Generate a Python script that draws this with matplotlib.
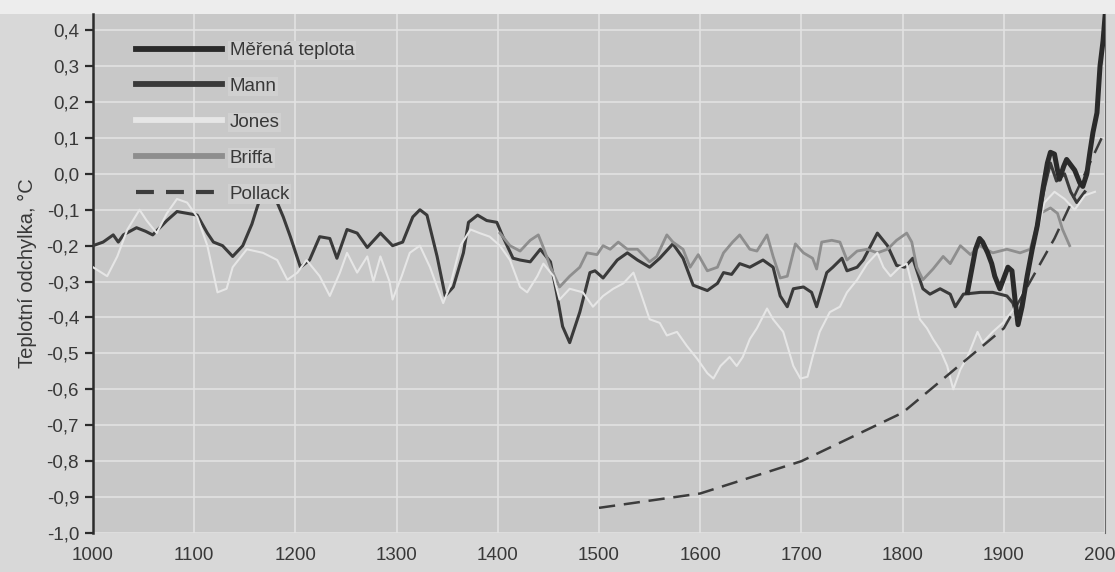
import matplotlib
matplotlib.use("Agg")
import matplotlib.pyplot as plt
from matplotlib.patches import Rectangle

plt.rcParams['font.family'] = ['Liberation Sans', 'DejaVu Sans']

# --- data (year, anomaly in degC) ---
mann_years = [1000, 1010, 1020, 1025, 1030, 1043, 1052, 1059, 1066, 1073, 1083, 1093, 1103,
              1113, 1119, 1128, 1138, 1148, 1157, 1162, 1165, 1170, 1175, 1182, 1188, 1195,
              1205, 1214, 1224, 1234, 1241, 1251, 1261, 1271, 1284, 1296, 1306, 1316, 1323,
              1330, 1340, 1348, 1356, 1366, 1371, 1380, 1389, 1399, 1405, 1415, 1422, 1432,
              1442, 1452, 1458, 1464, 1471, 1481, 1491, 1496, 1504, 1511, 1518, 1528, 1538,
              1550, 1560, 1573, 1583, 1593, 1607, 1617, 1623, 1631, 1639, 1649, 1662, 1672,
              1679, 1686, 1692, 1702, 1710, 1715, 1725, 1731, 1740, 1745, 1755, 1761, 1775,
              1785, 1794, 1802, 1810, 1820, 1827, 1837, 1847, 1852, 1860, 1877, 1889, 1903,
              1909, 1914, 1920, 1930, 1940, 1946, 1952, 1960, 1966, 1972, 1980]
mann_vals = [-0.20, -0.19, -0.17, -0.19, -0.17, -0.15, -0.16, -0.17, -0.15, -0.13, -0.105, -0.11, -0.115,
             -0.165, -0.19, -0.20, -0.23, -0.20, -0.14, -0.095, -0.07, -0.06, -0.065, -0.08, -0.12, -0.175,
             -0.26, -0.24, -0.175, -0.18, -0.235, -0.155, -0.165, -0.205, -0.165, -0.20, -0.19, -0.12, -0.10,
             -0.115, -0.23, -0.34, -0.315, -0.22, -0.135, -0.115, -0.13, -0.135, -0.175, -0.235, -0.24, -0.245,
             -0.21, -0.245, -0.33, -0.425, -0.47, -0.385, -0.275, -0.27, -0.29, -0.265, -0.24, -0.22, -0.24,
             -0.26, -0.235, -0.195, -0.235, -0.31, -0.325, -0.305, -0.275, -0.28, -0.25, -0.26, -0.24, -0.26,
             -0.34, -0.37, -0.32, -0.315, -0.33, -0.37, -0.275, -0.26, -0.235, -0.27, -0.26, -0.24, -0.165,
             -0.20, -0.255, -0.26, -0.235, -0.32, -0.335, -0.32, -0.335, -0.37, -0.335, -0.33, -0.33, -0.34,
             -0.36, -0.41, -0.33, -0.18, -0.04, 0.03, -0.02, 0.0, -0.05, -0.08, -0.05]

measured_years = [1864, 1868, 1872, 1876, 1879, 1884, 1888, 1891, 1896, 1900, 1904, 1908, 1911,
                  1914, 1918, 1923, 1928, 1933, 1939, 1943, 1946, 1950, 1953, 1955, 1959, 1962,
                  1966, 1970, 1975, 1978, 1982, 1985, 1988, 1992, 1995, 1998, 2000]
measured_vals = [-0.33, -0.27, -0.21, -0.18, -0.19, -0.22, -0.25, -0.285, -0.32, -0.29, -0.26, -0.27, -0.35,
                 -0.42, -0.37, -0.285, -0.21, -0.145, -0.035, 0.03, 0.06, 0.055, 0.01, -0.015, 0.02, 0.04,
                 0.025, 0.01, -0.025, -0.035, 0.0, 0.06, 0.115, 0.17, 0.30, 0.37, 0.44]

jones_years = [1000, 1014, 1024, 1034, 1046, 1053, 1063, 1073, 1083, 1093, 1103, 1113, 1123,
               1132, 1138, 1152, 1168, 1182, 1192, 1202, 1211, 1224, 1234, 1244, 1251, 1261,
               1271, 1277, 1284, 1293, 1296, 1305, 1313, 1323, 1333, 1340, 1346, 1353, 1363,
               1373, 1382, 1392, 1402, 1412, 1422, 1429, 1439, 1445, 1455, 1461, 1471, 1484,
               1494, 1504, 1514, 1524, 1534, 1541, 1550, 1560, 1567, 1577, 1587, 1597, 1607,
               1613, 1620, 1629, 1636, 1642, 1649, 1656, 1666, 1672, 1682, 1692, 1699, 1706,
               1711, 1718, 1728, 1738, 1745, 1755, 1765, 1775, 1781, 1788, 1797, 1804, 1810,
               1817, 1824, 1830, 1837, 1844, 1850, 1857, 1864, 1874, 1879, 1889, 1899, 1909,
               1920, 1930, 1940, 1950, 1960, 1970, 1980, 1990]
jones_vals = [-0.26, -0.285, -0.23, -0.155, -0.10, -0.13, -0.165, -0.11, -0.07, -0.08, -0.12, -0.20, -0.33,
              -0.32, -0.26, -0.21, -0.22, -0.24, -0.295, -0.275, -0.24, -0.285, -0.34, -0.275, -0.22, -0.275,
              -0.23, -0.30, -0.23, -0.30, -0.35, -0.285, -0.22, -0.20, -0.26, -0.315, -0.36, -0.31, -0.20,
              -0.155, -0.165, -0.175, -0.20, -0.24, -0.315, -0.33, -0.285, -0.25, -0.285, -0.35, -0.32, -0.33,
              -0.37, -0.34, -0.32, -0.305, -0.275, -0.33, -0.405, -0.415, -0.45, -0.44, -0.48, -0.515, -0.555,
              -0.57, -0.535, -0.51, -0.535, -0.51, -0.46, -0.43, -0.375, -0.405, -0.44, -0.535, -0.57, -0.565,
              -0.51, -0.44, -0.385, -0.37, -0.33, -0.295, -0.25, -0.22, -0.26, -0.285, -0.26, -0.25, -0.32,
              -0.405, -0.43, -0.46, -0.49, -0.535, -0.60, -0.545, -0.51, -0.44, -0.47, -0.44, -0.415, -0.38,
              -0.32, -0.20, -0.08, -0.05, -0.07, -0.10, -0.06, -0.05]

briffa_years = [1402, 1412, 1422, 1432, 1440, 1445, 1452, 1461, 1471, 1481, 1488, 1498, 1504,
                1511, 1519, 1528, 1538, 1550, 1557, 1567, 1573, 1583, 1590, 1598, 1607, 1617,
                1623, 1632, 1639, 1649, 1656, 1666, 1672, 1679, 1686, 1694, 1702, 1711, 1715,
                1720, 1730, 1738, 1745, 1755, 1765, 1775, 1785, 1794, 1804, 1809, 1814, 1820,
                1830, 1840, 1847, 1857, 1867, 1876, 1889, 1903, 1916, 1926, 1936, 1946, 1953,
                1958, 1965]
briffa_vals = [-0.165, -0.20, -0.215, -0.185, -0.17, -0.205, -0.26, -0.315, -0.285, -0.26, -0.22, -0.225, -0.20,
               -0.21, -0.19, -0.21, -0.21, -0.245, -0.23, -0.17, -0.19, -0.21, -0.26, -0.225, -0.27, -0.26,
               -0.22, -0.19, -0.17, -0.21, -0.215, -0.17, -0.23, -0.29, -0.285, -0.195, -0.22, -0.235, -0.265,
               -0.19, -0.185, -0.19, -0.24, -0.215, -0.21, -0.22, -0.21, -0.185, -0.165, -0.19, -0.26, -0.295,
               -0.265, -0.23, -0.25, -0.20, -0.225, -0.20, -0.22, -0.21, -0.22, -0.21, -0.11, -0.095, -0.11,
               -0.155, -0.20]

pollack_years = [1500, 1600, 1700, 1800, 1900, 1950, 2000]
pollack_vals = [-0.93, -0.89, -0.80, -0.665, -0.43, -0.18, 0.12]

x_ticks = [1000, 1100, 1200, 1300, 1400, 1500, 1600, 1700, 1800, 1900, 2000]
y_ticks = [0.4, 0.3, 0.2, 0.1, 0.0, -0.1, -0.2, -0.3, -0.4, -0.5, -0.6, -0.7, -0.8, -0.9, -1.0]
y_tick_labels = ["0,4", "0,3", "0,2", "0,1", "0,0", "-0,1", "-0,2", "-0,3", "-0,4", "-0,5",
                 "-0,6", "-0,7", "-0,8", "-0,9", "-1,0"]

text_col = '#383838'

fig = plt.figure(figsize=(11.15, 5.72), dpi=100)
fig.patch.set_facecolor('#d8d8d8')
fig.patches.append(Rectangle((0, 0.975), 1, 0.03, transform=fig.transFigure,
                             facecolor='#ededed', edgecolor='none', zorder=-1))
ax = fig.add_axes([0.0834, 0.0682, 0.9077, 0.9073])
ax.set_facecolor('#c8c8c8')

ax.plot(mann_years, mann_vals, color='#3a3a3a', lw=2.2, label='Mann', zorder=3)
ax.plot(briffa_years, briffa_vals, color='#8e8e8e', lw=2.0, label='Briffa', zorder=4)
ax.plot(jones_years, jones_vals, color='#e6e6e6', lw=1.5, label='Jones', zorder=5)
ax.plot(pollack_years, pollack_vals, color='#3c3c3c', lw=1.8, ls=(0, (6.5, 3.5)), label='Pollack', zorder=6)
ax.plot(measured_years, measured_vals, color='#2a2a2a', lw=3.6, label='Měřená teplota', zorder=7)

ax.set_xlim(1000, 2000)
ax.set_ylim(-1.0, 0.445)
ax.set_xticks(x_ticks)
ax.set_xticklabels([str(y) for y in x_ticks])
ax.set_yticks(y_ticks)
ax.set_yticklabels(y_tick_labels)

ax.grid(True, color='#e2e2e2', lw=1.2)
ax.set_axisbelow(True)

for side in ['top', 'bottom']:
    ax.spines[side].set_visible(False)
ax.spines['left'].set_color('#2b2b2b')
ax.spines['left'].set_linewidth(1.8)
ax.spines['right'].set_color('#6a6a6a')
ax.spines['right'].set_linewidth(0.8)

ax.tick_params(axis='y', length=6, width=1.6, color='#2b2b2b', pad=4,
               labelsize=13.5, labelcolor=text_col)
ax.tick_params(axis='x', length=0, pad=10, labelsize=13.5, labelcolor=text_col)

ax.set_ylabel('Teplotní odchylka, °C', fontsize=14.5, color=text_col, labelpad=7)

handles, labels = ax.get_legend_handles_labels()
order = ['Měřená teplota', 'Mann', 'Jones', 'Briffa', 'Pollack']
hmap = dict(zip(labels, handles))
leg = ax.legend([hmap[k] for k in order], order, loc='upper left',
                bbox_to_anchor=(0.0425, 0.946), frameon=False, borderpad=0,
                borderaxespad=0, handlelength=4.6, handletextpad=0.4,
                labelspacing=1.0, fontsize=13.5)
for line, name in zip(leg.get_lines(), order):
    if name == 'Pollack':
        line.set_linewidth(3.0)
        line.set_dashes((4.3, 2.9))
    else:
        line.set_linewidth(4.2)
for t in leg.get_texts():
    t.set_color(text_col)
    t.set_bbox(dict(facecolor='#d0d0d0', edgecolor='none', pad=1))

fig.savefig('out.png', dpi=100, facecolor=fig.get_facecolor())
